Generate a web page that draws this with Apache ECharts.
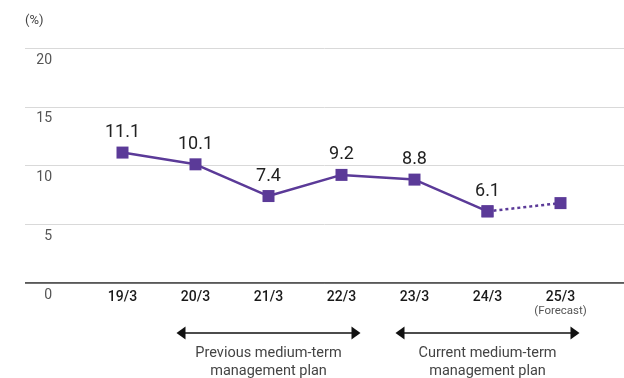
<!DOCTYPE html>
<html><head><meta charset="utf-8">
<script src="https://cdn.jsdelivr.net/npm/echarts@6/dist/echarts.min.js"></script>
<style>html,body{margin:0;padding:0;background:#fff}#c{width:624px;height:378px}</style>
</head><body><div id="c"></div>
<script>
const categories = ['19/3','20/3','21/3','22/3','23/3','24/3','25/3'];
const actualValues = [11.1, 10.1, 7.4, 9.2, 8.8, 6.1, null];
const forecastValues = [null, null, null, null, null, 6.1, 6.8];
const yTicks = [0, 5, 10, 15, 20];
const planLabels = ['Previous medium-term\nmanagement plan', 'Current medium-term\nmanagement plan'];
const planRanges = [['20/3','22/3'], ['23/3','25/3']];

const purple = '#5b3a98';
const font = 'Roboto, "Liberation Sans", sans-serif';
const chart = echarts.init(document.getElementById('c'));
const opt = {
  animation: false,
  grid: [
    {left: 25, right: 0, top: 48, bottom: 95},
    {left: 86, right: 27, top: 48, bottom: 95}
  ],
  xAxis: [
    {gridIndex: 0, type: 'value', show: false, min: 0, max: 1},
    {gridIndex: 1, type: 'category', data: categories,
     axisLine: {show: false}, axisTick: {show: false},
     axisLabel: {interval: 0, margin: 6, color: '#1a1a1a', fontSize: 14, fontWeight: 500, fontFamily: font, lineHeight: 16,
       formatter: (v) => v === '25/3' ? v + '\n{f|(Forecast)}' : v,
       rich: {f: {fontSize: 11.5, fontWeight: 'normal', color: '#555', fontFamily: font, lineHeight: 13}}}}
  ],
  yAxis: [
    {gridIndex: 0, type: 'value', min: yTicks[0], max: yTicks[yTicks.length-1], interval: 5,
     name: '(%)', nameLocation: 'end', nameGap: 21,
     nameTextStyle: {align: 'left', color: '#444', fontSize: 13, fontFamily: font},
     axisLine: {show: false}, axisTick: {show: false},
     splitLine: {lineStyle: {color: '#d9d9d9', width: 1}},
     axisLabel: {margin: -27, align: 'right', verticalAlign: 'top', padding: [5,0,0,0],
       color: '#555', fontSize: 14, fontFamily: font}},
    {gridIndex: 1, type: 'value', min: 0, max: 20, interval: 5, show: false}
  ],
  series: [
    {type: 'line', xAxisIndex: 0, yAxisIndex: 0, data: [[0,0],[1,0]], symbol: 'none',
     lineStyle: {color: '#222', width: 1.3}, silent: true, z: 1},
    {type: 'line', xAxisIndex: 1, yAxisIndex: 1, data: forecastValues,
     symbol: 'rect', symbolSize: 12, itemStyle: {color: purple},
     lineStyle: {color: purple, width: 2.5, type: [3, 3]}, z: 3},
    {type: 'line', xAxisIndex: 1, yAxisIndex: 1, data: actualValues,
     symbol: 'rect', symbolSize: 12, itemStyle: {color: purple},
     lineStyle: {color: purple, width: 2.5}, z: 4,
     label: {show: true, position: 'top', distance: 5, color: '#222', fontSize: 18, fontFamily: font}}
  ]
};
chart.setOption(opt);

const graphics = [];
const ay = 333;
planRanges.forEach((r, i) => {
  const x1 = chart.convertToPixel({xAxisIndex: 1}, r[0]) - 19;
  const x2 = chart.convertToPixel({xAxisIndex: 1}, r[1]) + 19;
  graphics.push({type: 'line', shape: {x1: x1 + 6, y1: ay, x2: x2 - 6, y2: ay}, style: {stroke: '#111', lineWidth: 1.5}});
  graphics.push({type: 'polygon', shape: {points: [[x1, ay], [x1 + 9, ay - 6.5], [x1 + 9, ay + 6.5]]}, style: {fill: '#111'}});
  graphics.push({type: 'polygon', shape: {points: [[x2, ay], [x2 - 9, ay - 6.5], [x2 - 9, ay + 6.5]]}, style: {fill: '#111'}});
  graphics.push({type: 'text', x: (x1 + x2) / 2, y: 344, style: {text: planLabels[i], align: 'center', verticalAlign: 'top',
    fill: '#444', font: '14.5px ' + font, lineHeight: 18}});
});
chart.setOption({graphic: graphics});
</script></body></html>
